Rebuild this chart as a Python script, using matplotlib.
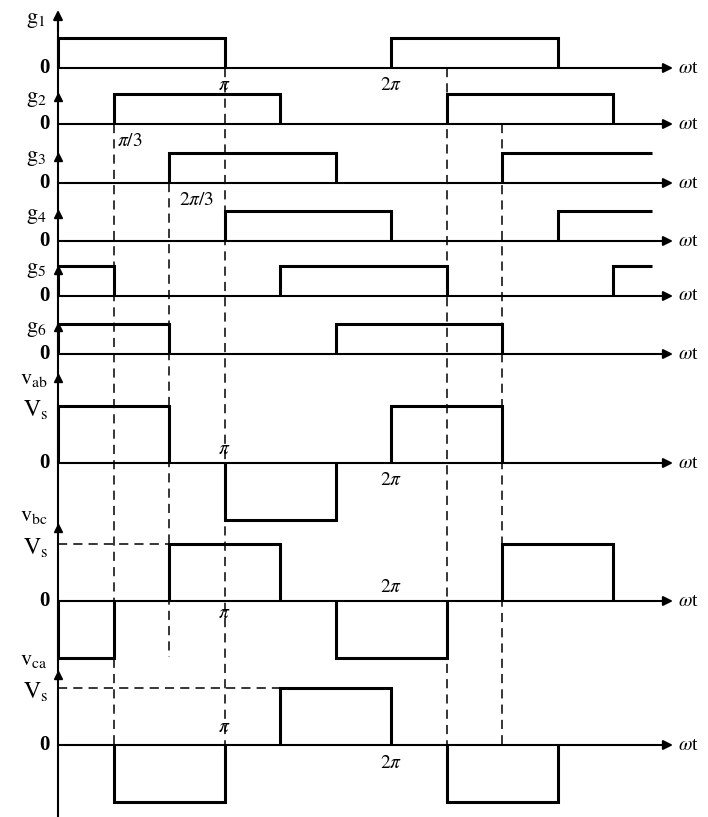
import matplotlib
matplotlib.use("Agg")
import matplotlib.pyplot as plt

plt.rcParams['font.family'] = ['Liberation Serif', 'DejaVu Serif']
plt.rcParams['mathtext.fontset'] = 'stix'

# edges in units of pi/3
g_names = ['1', '2', '3', '4', '5', '6']
g_on = [
    [(0, 3), (6, 9)],
    [(1, 4), (7, 10)],
    [(2, 5), (8, 10.7)],
    [(3, 6), (9, 10.7)],
    [(0, 1), (4, 7), (10, 10.7)],
    [(0, 2), (5, 8)],
]
v_names = ['ab', 'bc', 'ca']
# (start, end, level in Vs)
v_steps = [
    [(0, 2, 1), (3, 5, -1), (6, 8, 1)],
    [(0, 1, -1), (2, 4, 1), (5, 7, -1), (8, 10, 1)],
    [(1, 3, -1), (4, 6, 1), (7, 9, -1)],
]

# layout (pixel rows)
g_base = [68, 124, 183, 241, 296, 354]
v_base = [463, 601, 745]
g_h = 30
v_h = 57
x_end = 10.7
S = 55.5   # pixels per pi/3
X0 = 58


def u(px):
    return (px - X0) / S


fig = plt.figure(figsize=(7.08, 8.17), dpi=100)
ax = fig.add_axes([0, 0, 1, 1])
ax.set_xlim(u(0), u(708))
ax.set_ylim(817, 0)
ax.axis('off')

lw_w = 2.2
lw_a = 1.5
arrow = dict(arrowstyle='-|>', color='black', lw=lw_a, mutation_scale=14, shrinkA=0, shrinkB=0)

# vertical axis
ax.plot([0, 0], [817, 22], color='black', lw=lw_a)
ax.annotate('', xy=(0, 10), xytext=(0, 30), arrowprops=arrow)
for yy in [97, 157, 214, 270, 327, 378, 528, 675]:
    ax.plot(0, yy, marker='^', color='black', ms=6)


def time_axis(y0):
    ax.annotate('', xy=(u(673), y0), xytext=(0, y0), arrowprops=arrow)
    ax.text(u(678), y0, r'$\omega$t', fontsize=14, va='center', ha='left')
    ax.text(u(50), y0, '0', fontsize=15, va='center', ha='right', fontweight='bold')


def pulses(segs, y0, h):
    for a, b, lev in segs:
        xs = [a, a, b] if b >= x_end else [a, a, b, b]
        ys = [0, lev, lev] if b >= x_end else [0, lev, lev, 0]
        ax.plot(xs, [y0 - h * y for y in ys], color='black', lw=lw_w,
                solid_joinstyle='miter', solid_capstyle='butt')


for name, segs, y0 in zip(g_names, g_on, g_base):
    time_axis(y0)
    pulses([(a, b, 1) for a, b in segs], y0, g_h)
    ax.text(u(36), y0 - 48 if name == '1' else y0 - 25, r'$\mathrm{g}_{%s}$' % name,
            fontsize=16, ha='center', va='center')

for name, segs, y0 in zip(v_names, v_steps, v_base):
    time_axis(y0)
    pulses(segs, y0, v_h)
    ax.text(u(34), y0 - v_h - 27, r'$\mathrm{v}_{\mathrm{%s}}$' % name, fontsize=16, ha='center', va='center')
    ax.text(u(36), y0 - v_h + 4, r'$\mathrm{V}_{\mathrm{s}}$', fontsize=17, ha='center', va='center')

# guide lines
dash = dict(color='black', lw=1.1, dashes=(6, 4))
for xv, y1, y2 in [(1, 124, 745), (2, 183, 657), (3, 68, 745), (7, 68, 745), (8, 124, 745)]:
    ax.plot([xv, xv], [y1, y2], **dash)
ax.plot([0, 2], [v_base[1] - v_h] * 2, **dash)
ax.plot([0, 4], [v_base[2] - v_h] * 2, **dash)

# angle labels
pi_lbl = [
    (3, 85, r'$\pi$'), (6, 85, r'$2\pi$'),
    (1.3, 141, r'$\pi/3$'), (2.5, 200, r'$2\pi/3$'),
    (3, 449, r'$\pi$'), (6, 480, r'$2\pi$'),
    (6, 588, r'$2\pi$'), (3, 613, r'$\pi$'),
    (3, 727, r'$\pi$'), (6, 764, r'$2\pi$'),
]
for xv, yy, s in pi_lbl:
    ax.text(xv, yy, s, fontsize=14, ha='center', va='center')

fig.savefig('out.png', dpi=100)
